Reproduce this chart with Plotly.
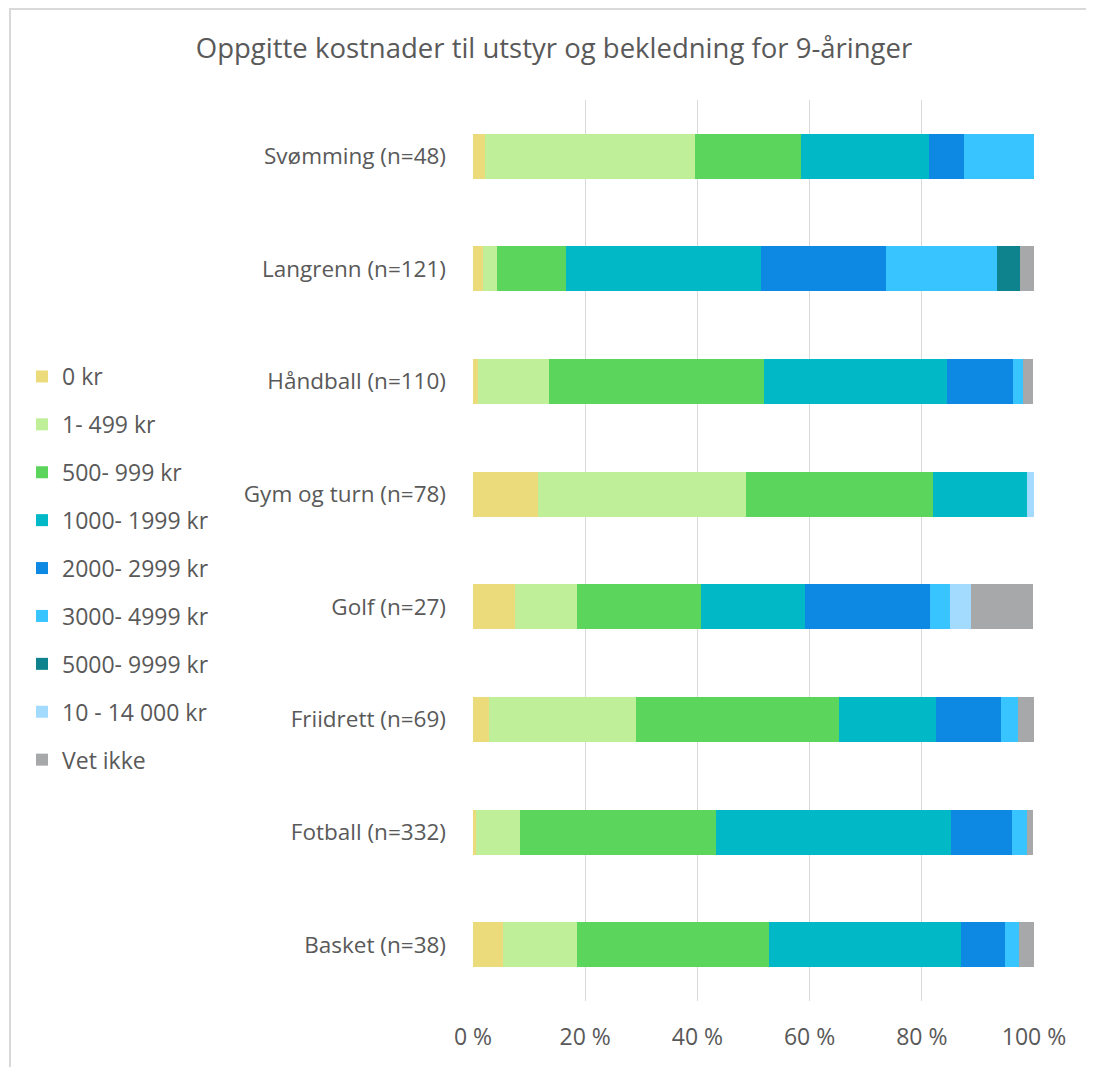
import plotly.graph_objects as go

categories = ["Svømming (n=48)", "Langrenn (n=121)", "Håndball (n=110)", "Gym og turn (n=78)",
              "Golf (n=27)", "Friidrett (n=69)", "Fotball (n=332)", "Basket (n=38)"]

series_names = ["0 kr", "1- 499 kr", "500- 999 kr", "1000- 1999 kr", "2000- 2999 kr",
                "3000- 4999 kr", "5000- 9999 kr", "10 - 14 000 kr", "Vet ikke"]

kr0       = [2.1, 1.7, 0.9, 11.5, 7.4, 2.9, 0.6, 5.3]
kr1_499   = [37.5, 2.5, 12.7, 37.2, 11.1, 26.1, 7.8, 13.2]
kr500_999 = [18.8, 12.4, 38.2, 33.3, 22.2, 36.2, 34.9, 34.2]
kr1000    = [22.9, 34.7, 32.7, 16.7, 18.5, 17.4, 41.9, 34.2]
kr2000    = [6.3, 22.3, 11.8, 0, 22.2, 11.6, 10.8, 7.9]
kr3000    = [12.5, 19.8, 1.8, 0, 3.7, 2.9, 2.7, 2.6]
kr5000    = [0, 4.1, 0, 0, 0, 0, 0, 0]
kr10000   = [0, 0, 0, 1.3, 3.7, 0, 0, 0]
vet_ikke  = [0, 2.5, 1.8, 0, 11.1, 2.9, 1.2, 2.6]

series_values = [kr0, kr1_499, kr500_999, kr1000, kr2000, kr3000, kr5000, kr10000, vet_ikke]
colors = ["#ECDB7A", "#BFEF98", "#5CD55D", "#00B8C6", "#0E89E3",
          "#38C4FF", "#0E838E", "#A3DBFF", "#A7A8AA"]

tick_vals = [0, 20, 40, 60, 80, 100]
tick_text = ["0 %", "20 %", "40 %", "60 %", "80 %", "100 %"]

FONT = "Open Sans"
TXT = "#595959"
OFF = 8  # page body margin

L, T, PW, PH = 473 - OFF, 100 - OFF, 561, 901

fig = go.Figure()
for name, vals, col in zip(series_names, series_values, colors):
    fig.add_trace(go.Bar(
        y=categories, x=vals, name=name, orientation="h",
        marker=dict(color=col, line=dict(width=0)),
        legendgroup=name,
    ))

fig.update_layout(
    width=1094, height=1067,
    barmode="stack", bargap=0.6,
    paper_bgcolor="white", plot_bgcolor="white",
    margin=dict(l=L, r=1094 - L - PW, t=T, b=1067 - T - PH, autoexpand=False),
    font=dict(family=FONT, size=22, color=TXT),
    title=dict(text="Oppgitte kostnader til utstyr og bekledning for 9-åringer",
               xref="container", yref="container", x=(554 - OFF)/1094, y=1-(48 - OFF)/1067,
               xanchor="center", yanchor="middle",
               font=dict(family=FONT, size=27.5, color=TXT)),
    legend=dict(xref="container", yref="container", x=14/1094, y=1-347/1067,
                xanchor="left", yanchor="top", traceorder="grouped",
                tracegroupgap=15, font=dict(family=FONT, size=23, color=TXT),
                itemwidth=30, bgcolor="rgba(0,0,0,0)"),
    xaxis=dict(range=[0, 100], tickvals=tick_vals, ticktext=tick_text,
               showgrid=True, gridcolor="#D9D9D9", gridwidth=1,
               zeroline=False, showline=False, ticks="", ticklabelstandoff=20,
               tickfont=dict(family=FONT, size=23, color=TXT), fixedrange=True),
    yaxis=dict(categoryorder="array", categoryarray=categories, autorange="reversed",
               showgrid=False, zeroline=False, showline=False, ticks="",
               ticklabelstandoff=26,
               tickfont=dict(family=FONT, size=22.5, color=TXT)),
    shapes=[dict(type="rect", xref="paper", yref="paper",
                 x0=(10 - OFF - L)/PW, x1=(1110 - L)/PW,
                 y0=-0.3, y1=1 + (T - 1)/PH,
                 line=dict(color="#D9D9D9", width=2), fillcolor="rgba(0,0,0,0)",
                 layer="below")],
)

fig.write_html("out.html")
